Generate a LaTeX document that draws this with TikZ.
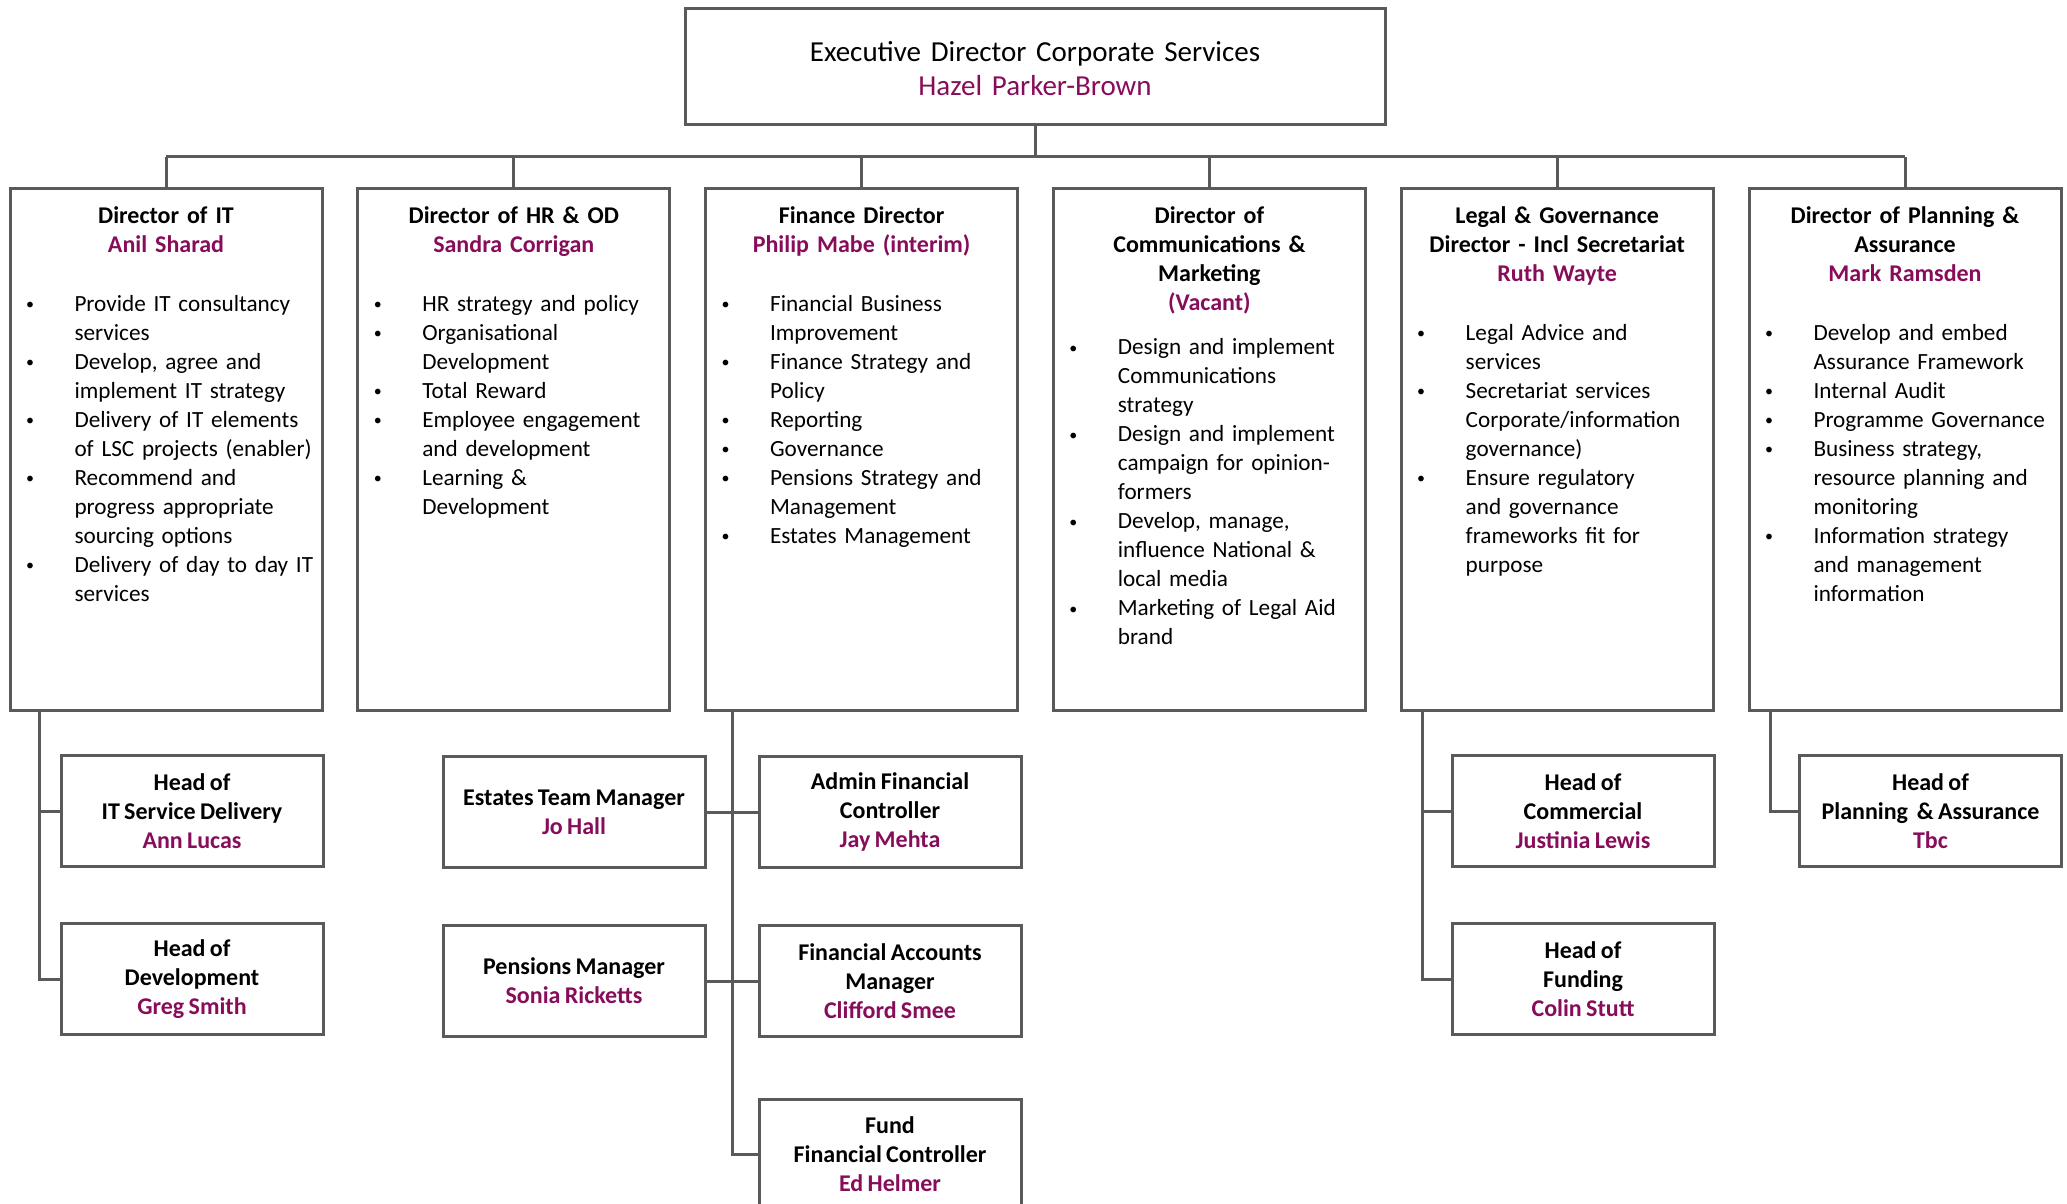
\documentclass[tikz,border=0pt]{standalone}
\usepackage{fontspec}
\setmainfont{Carlito}[WordSpace=0.8]
\definecolor{nmc}{HTML}{870C5A}
\definecolor{bdc}{HTML}{5A5A5A}
\newcommand\bl{\makebox[24.25pt][l]{\raisebox{0.6pt}{\fontsize{8}{8}\selectfont\textbullet}}}
\newcommand\ct{\hspace*{24.25pt}}
\newcommand\nm[1]{\textcolor{nmc}{#1}}
\begin{document}
\begin{tikzpicture}[x=0.5pt,y=-0.5pt,
  every node/.style={inner sep=0pt, outer sep=0pt},
  box/.style={draw=bdc, line width=1.5pt},
  dirbox/.style={box, minimum width=156pt, minimum height=261pt},
  subbox/.style={box, minimum width=131pt, minimum height=55.5pt, align=center,
    font=\bfseries\fontsize{12}{14.5}\selectfont},
  ttl/.style={anchor=base, text width=154pt, align=center,
    font=\bfseries\fontsize{12}{14.5}\selectfont},
  lst/.style={anchor=base west, text width=200pt, align=left,
    font=\fontsize{11.6}{14.5}\selectfont},
  conn/.style={draw=bdc, line width=1.5pt}]
\useasboundingbox (0,0) rectangle (2067,1204);

% top
\node[box, minimum width=350pt, minimum height=58pt] (exec) at (1035,67) {};
\node[anchor=base, text width=340pt, align=center, font=\fontsize{14.5}{17}\selectfont] (exect) at (1035,62)
  {Executive Director Corporate Services\\\nm{Hazel Parker-Brown}};

% directors
\node[dirbox] (dit)  at (166,449) {};
\node[dirbox] (dhr)  at (513.8,449) {};
\node[dirbox] (dfin) at (861.6,449) {};
\node[dirbox] (dcom) at (1209.4,449) {};
\node[dirbox] (dleg) at (1557.2,449) {};
\node[dirbox] (dpla) at (1905,449) {};

\coordinate (busM) at (1035,157);
\coordinate (busL) at (166,157);
\coordinate (busR) at (1905,157);
\draw[conn] (exec.south) -- (busM);
\draw[conn] (busL) -- (busR);
\foreach \n in {dit,dhr,dfin,dcom,dleg,dpla}
  \draw[conn] (\n.north) -- (\n.north |- busM);

% titles
\node[ttl] (tit) at (166,223.5) {Director of IT\\\nm{Anil Sharad}};
\node[ttl] (thr) at (513.8,223.5) {Director of HR \& OD\\\nm{Sandra Corrigan}};
\node[ttl] (tfin) at (861.6,223.5) {Finance Director\\\nm{Philip Mabe (interim)}};
\node[ttl] (tcom) at (1209.4,223.5) {Director of\\Communications \&\\Marketing\\\nm{(Vacant)}};
\node[ttl] (tleg) at (1557.2,223.5) {Legal \& Governance\\Director - Incl Secretariat\\\nm{Ruth Wayte}};
\node[ttl] (tpla) at (1905,223.5) {Director of Planning \&\\Assurance\\\nm{Mark Ramsden}};

% lists
\node[lst] (lit) at (26,311) {\bl Provide IT consultancy\\\ct services\\
\bl Develop, agree and\\\ct implement IT strategy\\
\bl Delivery of IT elements\\\ct of LSC projects (enabler)\\
\bl Recommend and\\\ct progress appropriate\\\ct sourcing options\\
\bl Delivery of day to day IT\\\ct services};
\node[lst] (lhr) at (373.8,311) {\bl HR strategy and policy\\
\bl Organisational\\\ct Development\\
\bl Total Reward\\
\bl Employee engagement\\\ct and development\\
\bl Learning \&\\\ct Development};
\node[lst] (lfin) at (721.6,311) {\bl Financial Business\\\ct Improvement\\
\bl Finance Strategy and\\\ct Policy\\
\bl Reporting\\
\bl Governance\\
\bl Pensions Strategy and\\\ct Management\\
\bl Estates Management};
\node[lst] (lcom) at (1069.4,354.5) {\bl Design and implement\\\ct Communications\\\ct strategy\\
\bl Design and implement\\\ct campaign for opinion-\\\ct formers\\
\bl Develop, manage,\\\ct influence National \&\\\ct local media\\
\bl Marketing of Legal Aid\\\ct brand};
\node[lst] (lleg) at (1417.2,340) {\bl Legal Advice and\\\ct services\\
\bl Secretariat services\\\ct Corporate/information\\\ct governance)\\
\bl Ensure regulatory\\\ct and governance\\\ct frameworks fit for\\\ct purpose};
\node[lst] (lpla) at (1765,340) {\bl Develop and embed\\\ct Assurance Framework\\
\bl Internal Audit\\
\bl Programme Governance\\
\bl Business strategy,\\\ct resource planning and\\\ct monitoring\\
\bl Information strategy\\\ct and management\\\ct information};

% sub boxes
\node[subbox] (itsd) at (192,811) {Head of\\IT Service Delivery\\\nm{Ann Lucas}};
\node[subbox] (dev)  at (192,979) {Head of\\Development\\\nm{Greg Smith}};
\node[subbox] (est)  at (574,812) {Estates Team Manager\\\nm{Jo Hall}};
\node[subbox] (pen)  at (574,981) {Pensions Manager\\\nm{Sonia Ricketts}};
\node[subbox] (adm)  at (890,812) {Admin Financial\\Controller\\\nm{Jay Mehta}};
\node[subbox] (facc) at (890,981) {Financial Accounts\\Manager\\\nm{Clifford Smee}};
\node[subbox] (fund) at (890,1154.5) {Fund\\Financial Controller\\\nm{Ed Helmer}};
\node[subbox] (com)  at (1583,811) {Head of\\Commercial\\\nm{Justinia Lewis}};
\node[subbox] (fnd)  at (1583,979) {Head of\\Funding\\\nm{Colin Stutt}};
\node[subbox] (hpa)  at (1930.5,811) {Head of\\Planning\ \ \& Assurance\\\nm{Tbc}};

% sub connectors
\draw[conn] (dit.south -| 39.5,0) |- (dev.west);
\draw[conn] (itsd.west) -- (itsd.west -| 39.5,0);
\draw[conn] (dfin.south -| 732.5,0) |- (fund.west);
\draw[conn] (est.east) -- (adm.west);
\draw[conn] (pen.east) -- (facc.west);
\draw[conn] (dleg.south -| 1422,0) |- (fnd.west);
\draw[conn] (com.west) -- (com.west -| 1422,0);
\draw[conn] (dpla.south -| 1770,0) |- (hpa.west);
\end{tikzpicture}
\end{document}
